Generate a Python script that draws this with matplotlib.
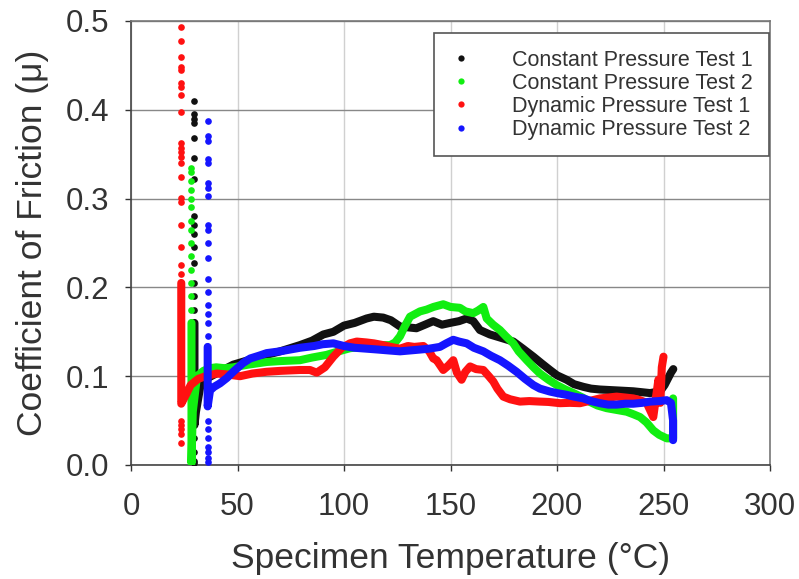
import matplotlib
matplotlib.use("Agg")
import matplotlib.pyplot as plt
import numpy as np
from matplotlib.lines import Line2D

plt.rcParams['font.family'] = ['Liberation Sans', 'DejaVu Sans']

# ---------------- data ----------------
series_names = ["Constant Pressure Test 1", "Constant Pressure Test 2",
                "Dynamic Pressure Test 1", "Dynamic Pressure Test 2"]

# Constant Pressure Test 1 (black)
cp1_spike_temp = 29.8
cp1_spike_mu = [0.41, 0.395, 0.39, 0.385, 0.368, 0.346, 0.322, 0.28, 0.27, 0.26,
                0.245, 0.228, 0.205, 0.19, 0.175, 0.03, 0.015, 0.005, 0.002]
cp1_temp = [29.8, 29.8, 30.5, 33, 36, 40, 44, 48, 55, 63.7,
            70, 79.3, 85, 90.3, 95, 100, 105, 110.6, 114, 118.4,
            122, 126.3, 130, 134, 138, 141.9, 146, 149.8, 154, 157.6,
            160.7, 163.8, 168.5, 174, 179.5, 184, 188.9, 193, 196.7, 200,
            204.5, 208, 212.4, 216, 220.2, 228, 235.8, 243.7, 248.4, 250.5,
            252, 253.5, 254.6]
cp1_mu = [0.16, 0.045, 0.06, 0.095, 0.098, 0.103, 0.108, 0.113, 0.118, 0.124,
          0.128, 0.135, 0.14, 0.147, 0.15, 0.157, 0.16, 0.165, 0.167, 0.166,
          0.163, 0.156, 0.155, 0.154, 0.158, 0.162, 0.158, 0.16, 0.162, 0.165,
          0.162, 0.152, 0.147, 0.143, 0.139, 0.131, 0.122, 0.114, 0.107, 0.101,
          0.096, 0.091, 0.088, 0.086, 0.085, 0.084, 0.083, 0.081, 0.083, 0.09,
          0.097, 0.104, 0.108]

# Constant Pressure Test 2 (green)
cp2_spike_temp = 28.4
cp2_spike_mu = [0.335, 0.33, 0.32, 0.31, 0.30, 0.29, 0.275, 0.265, 0.25, 0.235,
                0.22, 0.205, 0.19, 0.175]
cp2_temp = [28.4, 28.4, 29, 31, 34, 37, 40, 44, 48, 55,
            63.7, 70, 79.3, 85, 91.8, 96, 102.8, 108, 113.8, 117,
            121.6, 124, 126.3, 128.5, 131, 135.7, 138.8, 142, 146.6, 150,
            154.4, 157, 160.7, 163, 165.4, 167, 170, 173.2, 176, 179.5,
            182, 185.8, 189, 192, 196, 199.9, 204, 207.7, 212, 215.5,
            219, 223.3, 228, 232.7, 236, 239, 242, 245.2, 248, 251.5,
            253.5, 254.5, 254.5]
cp2_mu = [0.16, 0.002, 0.06, 0.1, 0.106, 0.109, 0.11, 0.109, 0.11, 0.113,
          0.116, 0.117, 0.118, 0.121, 0.124, 0.127, 0.1315, 0.133, 0.134, 0.135,
          0.135, 0.138, 0.145, 0.156, 0.167, 0.173, 0.175, 0.178, 0.181, 0.178,
          0.177, 0.173, 0.171, 0.174, 0.178, 0.165, 0.158, 0.152, 0.145, 0.137,
          0.128, 0.118, 0.11, 0.103, 0.096, 0.09, 0.085, 0.081, 0.076, 0.071,
          0.067, 0.064, 0.062, 0.06, 0.057, 0.054, 0.048, 0.039, 0.034, 0.03,
          0.03, 0.03, 0.075]

# Dynamic Pressure Test 1 (red)
dp1_spike_temp = 23.6
dp1_spike_mu = [0.493, 0.478, 0.459, 0.448, 0.445, 0.43, 0.426, 0.417, 0.398, 0.363,
                0.357, 0.353, 0.347, 0.34, 0.324, 0.301, 0.296, 0.27, 0.246, 0.225,
                0.215, 0.05, 0.045, 0.04, 0.035, 0.025]
dp1_temp = [23.6, 23.6, 26, 28, 31.6, 35, 40.2, 45, 51.2, 57,
            63.7, 70, 79.3, 84, 87.2, 91, 95, 99, 102.8, 106,
            110.6, 114, 118.4, 122, 126.3, 130, 133, 137.3, 140, 141.9,
            143.5, 146.6, 149, 151.3, 153, 155.2, 157, 159.2, 162, 165.4,
            168, 170.1, 172, 174.8, 178, 182.6, 187, 192, 196, 201.4,
            206, 210.8, 215, 220.2, 224, 228, 232, 235.8, 239, 242.1,
            245.2, 247.6, 248.5, 249.2, 250]
dp1_mu = [0.205, 0.069, 0.08, 0.09, 0.097, 0.1, 0.103, 0.102, 0.1, 0.103,
          0.105, 0.106, 0.107, 0.107, 0.104, 0.11, 0.122, 0.132, 0.137, 0.139,
          0.138, 0.137, 0.135, 0.133, 0.131, 0.134, 0.133, 0.134, 0.128, 0.12,
          0.118, 0.107, 0.112, 0.118, 0.104, 0.096, 0.105, 0.111, 0.108, 0.107,
          0.1, 0.094, 0.086, 0.077, 0.074, 0.0714, 0.072, 0.0714, 0.071, 0.0696,
          0.07, 0.0696, 0.072, 0.075, 0.076, 0.077, 0.076, 0.075, 0.073, 0.07,
          0.054, 0.096, 0.07, 0.11, 0.122]

# Dynamic Pressure Test 2 (blue)
dp2_spike_temp = 36.0
dp2_spike_mu = [0.387, 0.37, 0.365, 0.345, 0.34, 0.318, 0.312, 0.303, 0.27, 0.265,
                0.25, 0.233, 0.21, 0.195, 0.18, 0.17, 0.16, 0.145, 0.05, 0.04,
                0.03, 0.02, 0.015, 0.008, 0.003]
dp2_temp = [36, 36, 37.1, 39, 41.8, 45, 48, 52.7, 56, 60,
            63.7, 70, 79.3, 86, 90, 95, 100, 105, 110.6, 116,
            121, 126.3, 131, 135.7, 140, 145, 148, 151.3, 154, 157.6,
            161, 165.4, 169, 173.2, 177, 181, 185, 188.9, 192, 196.7,
            200, 204.5, 208, 212.4, 216, 220.2, 224, 228, 232, 235.8,
            240, 243.7, 248, 251.5, 253.5, 254.5, 254.5]
dp2_mu = [0.133, 0.066, 0.084, 0.088, 0.092, 0.098, 0.105, 0.115, 0.12, 0.123,
          0.126, 0.128, 0.132, 0.134, 0.136, 0.137, 0.134, 0.132, 0.131, 0.13,
          0.129, 0.128, 0.129, 0.13, 0.131, 0.133, 0.137, 0.141, 0.139, 0.137,
          0.132, 0.128, 0.123, 0.118, 0.112, 0.105, 0.097, 0.09, 0.086, 0.0827,
          0.081, 0.079, 0.077, 0.075, 0.072, 0.0696, 0.068, 0.068, 0.069, 0.069,
          0.07, 0.0714, 0.072, 0.073, 0.07, 0.05, 0.028]

x_ticks = [0, 50, 100, 150, 200, 250, 300]
y_ticks = [0.0, 0.1, 0.2, 0.3, 0.4, 0.5]

# ---------------- plot ----------------
colors = ["#111111", "#11ee11", "#ff1111", "#1515ff"]
series = [
    (cp1_spike_temp, cp1_spike_mu, cp1_temp, cp1_mu),
    (cp2_spike_temp, cp2_spike_mu, cp2_temp, cp2_mu),
    (dp1_spike_temp, dp1_spike_mu, dp1_temp, dp1_mu),
    (dp2_spike_temp, dp2_spike_mu, dp2_temp, dp2_mu),
]

fig = plt.figure(figsize=(7.99, 5.79), dpi=100)
ax = fig.add_axes([131 / 799, 1 - 465 / 579, 639 / 799, 444 / 579])

for (st, smu, t, mu), c in zip(series, colors):
    ax.plot(np.full(len(smu), st), smu, linestyle='none', marker='o',
            markersize=4.8, color=c, markeredgewidth=0, zorder=3)
    ax.plot(t, mu, color=c, linewidth=5.8, solid_capstyle='round',
            solid_joinstyle='round', zorder=3)

ax.set_xlim(0, 300)
ax.set_ylim(0, 0.5)
ax.set_xticks(x_ticks)
ax.set_yticks(y_ticks)
ax.set_xticklabels([str(v) for v in x_ticks])
ax.set_yticklabels([f"{v:.1f}" for v in y_ticks])

ax.tick_params(axis='both', labelsize=22.5, colors='#333333', length=4.5,
               width=1.0, direction='out')
ax.tick_params(axis='x', pad=15)
ax.tick_params(axis='y', pad=11)
for lbl in ax.get_xticklabels() + ax.get_yticklabels():
    lbl.set_color('#333333')

ax.yaxis.grid(True, color='#888888', linewidth=1.0, zorder=0)
ax.xaxis.grid(True, color='#d0d0d0', linewidth=1.0, zorder=0)
ax.set_axisbelow(True)

for side in ['left', 'bottom']:
    ax.spines[side].set_color('#444444')
    ax.spines[side].set_linewidth(1.2)
for side in ['top', 'right']:
    ax.spines[side].set_color('#777777')
    ax.spines[side].set_linewidth(1.2)

ax.set_xlabel("Specimen Temperature (°C)", fontsize=25.5, color='#333333', labelpad=14)
ax.set_ylabel("Coefficient of Friction (μ)", fontsize=25.5, color='#333333', labelpad=12)

handles = [Line2D([], [], linestyle='none', marker='o', markersize=4.5,
                  color=c, markeredgewidth=0) for c in colors]
leg = ax.legend(handles, series_names, loc='upper right',
                bbox_to_anchor=(0.999, 0.972), fontsize=15.5, frameon=True,
                fancybox=False, edgecolor='#555555', framealpha=1,
                handlelength=1.0, handletextpad=1.9, borderpad=0.75,
                labelspacing=0.1, borderaxespad=0)
leg.get_frame().set_linewidth(1.2)
for txt in leg.get_texts():
    txt.set_color('#333333')

fig.savefig("out.png", dpi=100)
